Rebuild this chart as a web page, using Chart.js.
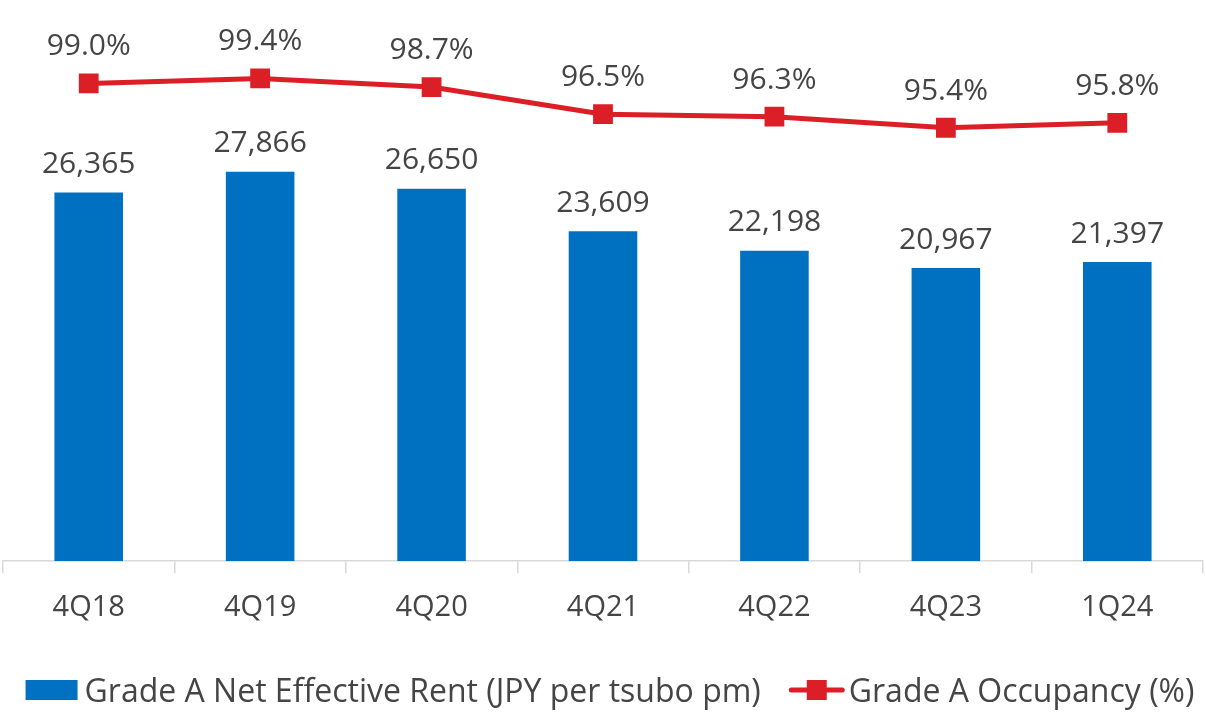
<!DOCTYPE html>
<html>
<head>
<meta charset="utf-8">
<script src="https://cdn.jsdelivr.net/npm/chart.js@4.4.1/dist/chart.umd.min.js"></script>
<style>
html, body { margin: 0; padding: 0; background: #fff; }
#wrap { width: 1206px; height: 712px; }
</style>
</head>
<body>
<div id="wrap"><canvas id="chart"></canvas></div>
<script>
// data
var quarters = ['4Q18', '4Q19', '4Q20', '4Q21', '4Q22', '4Q23', '1Q24'];
var netEffectiveRent = [26365, 27866, 26650, 23609, 22198, 20967, 21397];
var occupancy = [99.0, 99.4, 98.7, 96.5, 96.3, 95.4, 95.8];
var seriesNames = ['Grade A Net Effective Rent (JPY per tsubo pm)', 'Grade A Occupancy (%)'];

var BLUE = '#0070C0', RED = '#DC1F26', TEXT = '#454545', AXIS = '#D9D9D9';
var FONT = '"Open Sans", Lato, sans-serif';

// value labels above bars and points
var valueLabels = {
    id: 'valueLabels',
    afterDatasetsDraw: function(chart) {
        var ctx = chart.ctx;
        ctx.save();
        ctx.font = '30px ' + FONT;
        ctx.fillStyle = TEXT;
        ctx.textAlign = 'center';
        ctx.textBaseline = 'alphabetic';
        chart.getDatasetMeta(0).data.forEach(function(bar, i) {
            ctx.fillText(netEffectiveRent[i].toLocaleString('en-US'), bar.x, bar.y - 19.5);
        });
        chart.getDatasetMeta(1).data.forEach(function(pt, i) {
            ctx.fillText(occupancy[i].toFixed(1) + '%', pt.x, pt.y - 28);
        });
        ctx.restore();
    }
};

// legend drawn below the axis: box for the bars, line + square for occupancy
var bottomLegend = {
    id: 'bottomLegend',
    afterDraw: function(chart) {
        var ctx = chart.ctx;
        var y = 690;
        ctx.save();
        ctx.font = '32px ' + FONT;
        var w1 = ctx.measureText(seriesNames[0]).width;
        var w2 = ctx.measureText(seriesNames[1]).width;
        var total = 52 + 7 + w1 + 28 + 56 + 4 + w2;
        var x = 610 - total / 2;

        ctx.fillStyle = BLUE;
        ctx.fillRect(x, y - 10, 52, 20);
        x += 52 + 7;
        ctx.fillStyle = TEXT;
        ctx.textBaseline = 'alphabetic';
        ctx.fillText(seriesNames[0], x, y + 11.5);
        x += w1 + 28;

        ctx.strokeStyle = RED;
        ctx.lineWidth = 5;
        ctx.lineCap = 'round';
        ctx.beginPath();
        ctx.moveTo(x + 2.5, y);
        ctx.lineTo(x + 53.5, y);
        ctx.stroke();
        ctx.fillStyle = RED;
        ctx.fillRect(x + 18, y - 10, 20, 20);
        x += 56 + 4;
        ctx.fillStyle = TEXT;
        ctx.fillText(seriesNames[1], x, y + 11.5);
        ctx.restore();
    }
};

new Chart(document.getElementById('chart'), {
    type: 'bar',
    data: {
        labels: quarters,
        datasets: [{
            label: seriesNames[0],
            data: netEffectiveRent,
            backgroundColor: BLUE,
            categoryPercentage: 1,
            barPercentage: 0.4,
            yAxisID: 'y',
            order: 2
        }, {
            type: 'line',
            label: seriesNames[1],
            data: occupancy,
            borderColor: RED,
            backgroundColor: RED,
            borderWidth: 5,
            pointStyle: 'rect',
            pointRadius: 14,
            pointHoverRadius: 14,
            pointBorderWidth: 0,
            tension: 0,
            yAxisID: 'y1',
            order: 1
        }]
    },
    options: {
        responsive: true,
        maintainAspectRatio: false,
        animation: false,
        layout: { autoPadding: false, padding: { top: 2, left: 3, right: 3, bottom: 70 } },
        scales: {
            x: {
                grid: { display: true, drawOnChartArea: false, drawTicks: true, tickLength: 12, color: AXIS, lineWidth: 1.5 },
                border: { display: true, color: AXIS, width: 1.5 },
                ticks: { color: TEXT, font: { family: FONT, size: 29 }, padding: 17 }
            },
            y: { display: false, min: 0, max: 40000 },
            y1: { display: false, min: 60.25, max: 105.6 }
        },
        plugins: {
            tooltip: { enabled: false },
            legend: { display: false }
        }
    },
    plugins: [valueLabels, bottomLegend]
});
</script>
</body>
</html>
